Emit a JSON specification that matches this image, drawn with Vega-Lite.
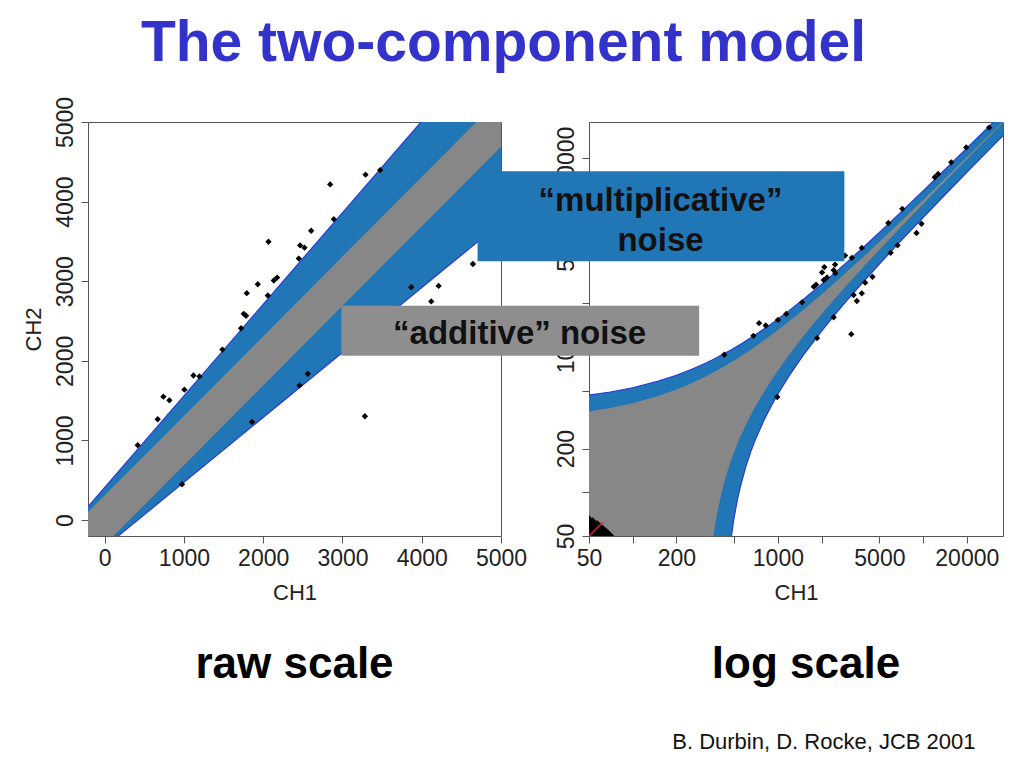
{
 "$schema": "https://vega.github.io/schema/vega-lite/v6.json",
 "background": "white",
 "padding": {"left": 21, "top": 14, "right": 5, "bottom": 5},
 "title": {"text": "The two-component model", "font": "Liberation Sans", "fontSize": 57, "fontWeight": "bold", "color": "#3333CC", "anchor": "middle", "offset": 23, "dx": -9},
 "config": {
  "font": "Liberation Sans",
  "view": {"stroke": "#555", "strokeWidth": 1},
  "axis": {"grid": false, "domain": false, "tickColor": "#555", "tickSize": 7, "tickWidth": 1, "labelFont": "Liberation Sans", "labelFontSize": 23, "labelColor": "#222", "labelPadding": 4, "labelFlush": false, "labelOverlap": false, "titleFont": "Liberation Sans", "titleFontSize": 22, "titleFontWeight": "normal", "titleColor": "#222"},
  "axisX": {"titlePadding": 12},
  "axisY": {"labelAngle": -90, "labelAlign": "center", "labelBaseline": "bottom", "titlePadding": 9}
 },
 "datasets": {
  "rawBand": [
   {"CH1": -400, "grayLow": -710, "grayHigh": -90, "blueLow": -666, "blueHigh": -50},
   {"CH1": 6000, "grayLow": 5690, "grayHigh": 6310, "blueLow": 4550, "blueHigh": 7310}
  ],
  "rawPoints": [
   {"CH1": 417, "CH2": 941}, {"CH1": 669, "CH2": 1266}, {"CH1": 741, "CH2": 1550}, {"CH1": 817, "CH2": 1504},
   {"CH1": 976, "CH2": 450}, {"CH1": 1006, "CH2": 1638}, {"CH1": 1120, "CH2": 1816}, {"CH1": 1195, "CH2": 1804},
   {"CH1": 1486, "CH2": 2141}, {"CH1": 1721, "CH2": 2409}, {"CH1": 1755, "CH2": 2591}, {"CH1": 1784, "CH2": 2566},
   {"CH1": 1793, "CH2": 2850}, {"CH1": 1932, "CH2": 2962}, {"CH1": 2058, "CH2": 2821}, {"CH1": 2067, "CH2": 3496},
   {"CH1": 2134, "CH2": 3009}, {"CH1": 2176, "CH2": 3046}, {"CH1": 2449, "CH2": 3284}, {"CH1": 2466, "CH2": 3450},
   {"CH1": 2521, "CH2": 3421}, {"CH1": 2605, "CH2": 3634}, {"CH1": 2845, "CH2": 4216}, {"CH1": 2891, "CH2": 3779},
   {"CH1": 3291, "CH2": 4338}, {"CH1": 3476, "CH2": 4396}, {"CH1": 2458, "CH2": 1691}, {"CH1": 2563, "CH2": 1838},
   {"CH1": 1860, "CH2": 1233}, {"CH1": 3283, "CH2": 1304}, {"CH1": 3868, "CH2": 2925}, {"CH1": 4120, "CH2": 2746},
   {"CH1": 4213, "CH2": 2941}, {"CH1": 4646, "CH2": 3216}
  ],
  "logBand": [
   {"CH1": 40, "grayLow": 1, "grayHigh": 350, "blueLow": 1, "blueHigh": 456},
   {"CH1": 50, "grayLow": 1, "grayHigh": 360, "blueLow": 1, "blueHigh": 467.5},
   {"CH1": 70, "grayLow": 1, "grayHigh": 380, "blueLow": 1, "blueHigh": 490.5},
   {"CH1": 100, "grayLow": 1, "grayHigh": 410, "blueLow": 1, "blueHigh": 525},
   {"CH1": 150, "grayLow": 1, "grayHigh": 460, "blueLow": 1, "blueHigh": 582.5},
   {"CH1": 200, "grayLow": 1, "grayHigh": 510, "blueLow": 1, "blueHigh": 640},
   {"CH1": 250, "grayLow": 1, "grayHigh": 560, "blueLow": 1, "blueHigh": 697.5},
   {"CH1": 300, "grayLow": 1, "grayHigh": 610, "blueLow": 1, "blueHigh": 755},
   {"CH1": 311, "grayLow": 1, "grayHigh": 621, "blueLow": 1, "blueHigh": 767.7},
   {"CH1": 315, "grayLow": 5, "grayHigh": 625, "blueLow": 1, "blueHigh": 772.3},
   {"CH1": 320, "grayLow": 10, "grayHigh": 630, "blueLow": 1, "blueHigh": 778},
   {"CH1": 330, "grayLow": 20, "grayHigh": 640, "blueLow": 1, "blueHigh": 789.5},
   {"CH1": 340, "grayLow": 30, "grayHigh": 650, "blueLow": 1, "blueHigh": 801},
   {"CH1": 350, "grayLow": 40, "grayHigh": 660, "blueLow": 1, "blueHigh": 812.5},
   {"CH1": 360, "grayLow": 50, "grayHigh": 670, "blueLow": 1, "blueHigh": 824},
   {"CH1": 380, "grayLow": 70, "grayHigh": 690, "blueLow": 1, "blueHigh": 847},
   {"CH1": 400, "grayLow": 90, "grayHigh": 710, "blueLow": 1, "blueHigh": 870},
   {"CH1": 418, "grayLow": 108, "grayHigh": 728, "blueLow": 1, "blueHigh": 890.7},
   {"CH1": 420, "grayLow": 110, "grayHigh": 730, "blueLow": 2.3, "blueHigh": 893},
   {"CH1": 425, "grayLow": 115, "grayHigh": 735, "blueLow": 6.4, "blueHigh": 898.8},
   {"CH1": 430, "grayLow": 120, "grayHigh": 740, "blueLow": 10.5, "blueHigh": 904.5},
   {"CH1": 440, "grayLow": 130, "grayHigh": 750, "blueLow": 18.6, "blueHigh": 916},
   {"CH1": 450, "grayLow": 140, "grayHigh": 760, "blueLow": 26.8, "blueHigh": 927.5},
   {"CH1": 460, "grayLow": 150, "grayHigh": 770, "blueLow": 34.9, "blueHigh": 939},
   {"CH1": 475, "grayLow": 165, "grayHigh": 785, "blueLow": 47.1, "blueHigh": 956.3},
   {"CH1": 490, "grayLow": 180, "grayHigh": 800, "blueLow": 59.4, "blueHigh": 973.5},
   {"CH1": 500, "grayLow": 190, "grayHigh": 810, "blueLow": 67.5, "blueHigh": 985},
   {"CH1": 525, "grayLow": 215, "grayHigh": 835, "blueLow": 87.9, "blueHigh": 1013.8},
   {"CH1": 550, "grayLow": 240, "grayHigh": 860, "blueLow": 108.3, "blueHigh": 1042.5},
   {"CH1": 600, "grayLow": 290, "grayHigh": 910, "blueLow": 149, "blueHigh": 1100},
   {"CH1": 650, "grayLow": 340, "grayHigh": 960, "blueLow": 189.8, "blueHigh": 1157.5},
   {"CH1": 700, "grayLow": 390, "grayHigh": 1010, "blueLow": 230.5, "blueHigh": 1215},
   {"CH1": 800, "grayLow": 490, "grayHigh": 1110, "blueLow": 312, "blueHigh": 1330},
   {"CH1": 900, "grayLow": 590, "grayHigh": 1210, "blueLow": 393.5, "blueHigh": 1445},
   {"CH1": 1000, "grayLow": 690, "grayHigh": 1310, "blueLow": 475, "blueHigh": 1560},
   {"CH1": 1200, "grayLow": 890, "grayHigh": 1510, "blueLow": 638, "blueHigh": 1790},
   {"CH1": 1500, "grayLow": 1190, "grayHigh": 1810, "blueLow": 882.5, "blueHigh": 2135},
   {"CH1": 2000, "grayLow": 1690, "grayHigh": 2310, "blueLow": 1290, "blueHigh": 2710},
   {"CH1": 2500, "grayLow": 2190, "grayHigh": 2810, "blueLow": 1697.5, "blueHigh": 3285},
   {"CH1": 3000, "grayLow": 2690, "grayHigh": 3310, "blueLow": 2105, "blueHigh": 3860},
   {"CH1": 4000, "grayLow": 3690, "grayHigh": 4310, "blueLow": 2920, "blueHigh": 5010},
   {"CH1": 5000, "grayLow": 4690, "grayHigh": 5310, "blueLow": 3735, "blueHigh": 6160},
   {"CH1": 7000, "grayLow": 6690, "grayHigh": 7310, "blueLow": 5365, "blueHigh": 8460},
   {"CH1": 10000, "grayLow": 9690, "grayHigh": 10310, "blueLow": 7810, "blueHigh": 11910},
   {"CH1": 15000, "grayLow": 14690, "grayHigh": 15310, "blueLow": 11885, "blueHigh": 17660},
   {"CH1": 20000, "grayLow": 19690, "grayHigh": 20310, "blueLow": 15960, "blueHigh": 23410},
   {"CH1": 30000, "grayLow": 29690, "grayHigh": 30310, "blueLow": 24110, "blueHigh": 34910},
   {"CH1": 40000, "grayLow": 39690, "grayHigh": 40310, "blueLow": 32260, "blueHigh": 46410}
  ],
  "logPoints": [
   {"CH1": 427, "CH2": 886}, {"CH1": 678, "CH2": 1196}, {"CH1": 742, "CH2": 1462}, {"CH1": 824, "CH2": 1409},
   {"CH1": 1001, "CH2": 1539}, {"CH1": 1141, "CH2": 1692}, {"CH1": 1468, "CH2": 2035}, {"CH1": 1766, "CH2": 2607},
   {"CH1": 1831, "CH2": 2690}, {"CH1": 2013, "CH2": 3267}, {"CH1": 2067, "CH2": 2893}, {"CH1": 2178, "CH2": 3019},
   {"CH1": 2421, "CH2": 3387}, {"CH1": 2487, "CH2": 3230}, {"CH1": 3231, "CH2": 4120}, {"CH1": 3783, "CH2": 4822},
   {"CH1": 1860, "CH2": 1153}, {"CH1": 2421, "CH2": 1606}, {"CH1": 3201, "CH2": 1228}, {"CH1": 3319, "CH2": 2284},
   {"CH1": 3496, "CH2": 2077}, {"CH1": 3783, "CH2": 2345}, {"CH1": 3992, "CH2": 2777}, {"CH1": 4478, "CH2": 3052},
   {"CH1": 5975, "CH2": 4457}, {"CH1": 6673, "CH2": 5025}, {"CH1": 5762, "CH2": 7153}, {"CH1": 7186, "CH2": 8961},
   {"CH1": 9005, "CH2": 6109}, {"CH1": 9743, "CH2": 7074}, {"CH1": 12035, "CH2": 14775}, {"CH1": 12680, "CH2": 15560},
   {"CH1": 15640, "CH2": 18720}, {"CH1": 19820, "CH2": 23710}, {"CH1": 28500, "CH2": 32500}, {"CH1": 990, "CH2": 453},
   {"CH1": 2088, "CH2": 3559}, {"CH1": 2475, "CH2": 3698}, {"CH1": 2901, "CH2": 4266}
  ],
  "cornerPoints": [
   {"CH1": 50, "CH2": 50}, {"CH1": 52, "CH2": 56}, {"CH1": 55, "CH2": 52}, {"CH1": 51, "CH2": 61},
   {"CH1": 58, "CH2": 51}, {"CH1": 54, "CH2": 58}, {"CH1": 60, "CH2": 55}, {"CH1": 53, "CH2": 63},
   {"CH1": 65, "CH2": 51}, {"CH1": 57, "CH2": 60}, {"CH1": 62, "CH2": 56}, {"CH1": 50, "CH2": 65},
   {"CH1": 70, "CH2": 50}, {"CH1": 56, "CH2": 54}, {"CH1": 52, "CH2": 52}, {"CH1": 66, "CH2": 53},
   {"CH1": 59, "CH2": 58}, {"CH1": 50, "CH2": 57}, {"CH1": 63, "CH2": 52}, {"CH1": 68, "CH2": 51}
  ],
  "refLine": [{"CH1": 50, "CH2": 50}, {"CH1": 62, "CH2": 62}]
 },
 "vconcat": [{
  "title": {"text": "B. Durbin, D. Rocke, JCB 2001", "orient": "bottom", "anchor": "end", "font": "Liberation Sans", "fontSize": 22, "fontWeight": "normal", "color": "#111", "offset": 44, "dx": -28},
  "bounds": "flush",
  "spacing": 88,
  "hconcat": [
   {
    "width": 413, "height": 414,
    "title": {"text": "raw scale", "orient": "bottom", "font": "Liberation Sans", "fontSize": 44, "fontWeight": "bold", "color": "black", "offset": 40},
    "layer": [
     {"data": {"name": "rawBand"}, "mark": {"type": "area", "color": "#2176B6", "clip": true},
      "encoding": {
       "x": {"field": "CH1", "type": "quantitative", "scale": {"domain": [-210, 5000], "nice": false, "zero": false}, "axis": {"title": "CH1", "values": [0, 1000, 2000, 3000, 4000, 5000], "format": "d"}},
       "y": {"field": "blueLow", "type": "quantitative", "scale": {"domain": [-200, 5000], "nice": false, "zero": false}, "axis": {"title": "CH2", "values": [0, 1000, 2000, 3000, 4000, 5000], "format": "d"}},
       "y2": {"field": "blueHigh"}}},
     {"data": {"name": "rawBand"}, "mark": {"type": "line", "color": "#2a3ad8", "strokeWidth": 1.2, "clip": true},
      "encoding": {
       "x": {"field": "CH1", "type": "quantitative"},
       "y": {"field": "blueHigh", "type": "quantitative"}}},
     {"data": {"name": "rawBand"}, "mark": {"type": "line", "color": "#2a3ad8", "strokeWidth": 1.2, "clip": true},
      "encoding": {
       "x": {"field": "CH1", "type": "quantitative"},
       "y": {"field": "blueLow", "type": "quantitative"}}},
     {"data": {"name": "rawBand"}, "mark": {"type": "area", "color": "#878787", "clip": true},
      "encoding": {
       "x": {"field": "CH1", "type": "quantitative"},
       "y": {"field": "grayLow", "type": "quantitative"},
       "y2": {"field": "grayHigh"}}},
     {"data": {"name": "rawPoints"}, "mark": {"type": "point", "shape": "diamond", "filled": true, "color": "black", "opacity": 1, "size": 40, "clip": true},
      "encoding": {
       "x": {"field": "CH1", "type": "quantitative"},
       "y": {"field": "CH2", "type": "quantitative"}}}
    ]
   },
   {
    "width": 414, "height": 414,
    "title": {"text": "log scale", "orient": "bottom", "font": "Liberation Sans", "fontSize": 44, "fontWeight": "bold", "color": "black", "offset": 40, "dx": 10},
    "layer": [
     {"data": {"name": "logBand"}, "mark": {"type": "area", "color": "#2176B6", "clip": true},
      "encoding": {
       "x": {"field": "CH1", "type": "quantitative", "scale": {"type": "log", "domain": [50, 35500], "nice": false}, "axis": {"title": "CH1", "values": [50, 100, 200, 500, 1000, 2000, 5000, 10000, 20000], "format": "d", "labelExpr": "(datum.value == 100 || datum.value == 500 || datum.value == 2000 || datum.value == 10000) ? '' : datum.label"}},
       "y": {"field": "blueLow", "type": "quantitative", "scale": {"type": "log", "domain": [50, 35500], "nice": false}, "axis": {"title": "CH2", "values": [50, 100, 200, 500, 1000, 2000, 5000, 10000, 20000], "format": "d", "labelExpr": "(datum.value == 100 || datum.value == 500 || datum.value == 2000 || datum.value == 10000) ? '' : datum.label"}},
       "y2": {"field": "blueHigh"}}},
     {"data": {"name": "logBand"}, "mark": {"type": "line", "color": "#2a3ad8", "strokeWidth": 1.2, "clip": true},
      "encoding": {
       "x": {"field": "CH1", "type": "quantitative"},
       "y": {"field": "blueHigh", "type": "quantitative"}}},
     {"data": {"name": "logBand"}, "mark": {"type": "line", "color": "#2a3ad8", "strokeWidth": 1.2, "clip": true},
      "encoding": {
       "x": {"field": "CH1", "type": "quantitative"},
       "y": {"field": "blueLow", "type": "quantitative"}}},
     {"data": {"name": "logBand"}, "mark": {"type": "area", "color": "#878787", "clip": true},
      "encoding": {
       "x": {"field": "CH1", "type": "quantitative"},
       "y": {"field": "grayLow", "type": "quantitative"},
       "y2": {"field": "grayHigh"}}},
     {"data": {"name": "logPoints"}, "mark": {"type": "point", "shape": "diamond", "filled": true, "color": "black", "opacity": 1, "size": 40, "clip": true},
      "encoding": {
       "x": {"field": "CH1", "type": "quantitative"},
       "y": {"field": "CH2", "type": "quantitative"}}},
     {"data": {"name": "cornerPoints"}, "mark": {"type": "point", "shape": "diamond", "filled": true, "color": "black", "opacity": 1, "size": 70, "clip": true},
      "encoding": {
       "x": {"field": "CH1", "type": "quantitative"},
       "y": {"field": "CH2", "type": "quantitative"}}},
     {"data": {"name": "refLine"}, "mark": {"type": "line", "color": "#e02020", "strokeWidth": 1.5, "clip": true},
      "encoding": {
       "x": {"field": "CH1", "type": "quantitative"},
       "y": {"field": "CH2", "type": "quantitative"}}},
     {"data": {"values": [{"label": "multiplicative"}]}, "mark": {"type": "rect", "color": "#2176B6"},
      "encoding": {
       "x": {"datum": 8.54, "type": "quantitative"},
       "x2": {"datum": 2868},
       "y": {"datum": 16270, "type": "quantitative"},
       "y2": {"datum": 3897}}},
     {"data": {"values": [{"label": "additive"}]}, "mark": {"type": "rect", "color": "#8E8E8E"},
      "encoding": {
       "x": {"datum": 0.985, "type": "quantitative"},
       "x2": {"datum": 286.8},
       "y": {"datum": 1928, "type": "quantitative"},
       "y2": {"datum": 871.6}}},
     {"data": {"values": [{"label": "“multiplicative”\nnoise"}]}, "mark": {"type": "text", "font": "Liberation Sans", "fontSize": 33, "fontWeight": "bold", "color": "#111", "lineBreak": "\n", "lineHeight": 40, "align": "center", "baseline": "middle"},
      "encoding": {
       "text": {"field": "label"},
       "x": {"datum": 155.4, "type": "quantitative"},
       "y": {"datum": 10105, "type": "quantitative"}}},
     {"data": {"values": [{"label": "“additive” noise"}]}, "mark": {"type": "text", "font": "Liberation Sans", "fontSize": 33, "fontWeight": "bold", "color": "#111", "align": "center", "baseline": "middle"},
      "encoding": {
       "text": {"field": "label"},
       "x": {"datum": 16.64, "type": "quantitative"},
       "y": {"datum": 1223, "type": "quantitative"}}}
    ]
   }
  ]
 }]
}
